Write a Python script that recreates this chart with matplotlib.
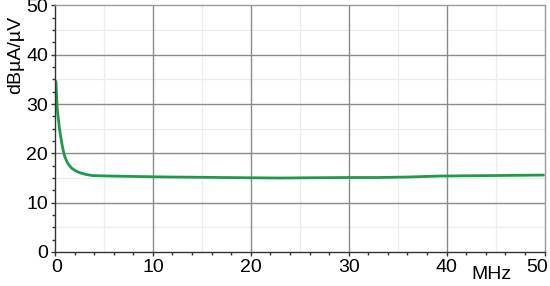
import numpy as np
import matplotlib.pyplot as plt
import matplotlib.transforms as mtransforms
from matplotlib.ticker import MultipleLocator

# frequency (MHz) and level (dBuA/uV)
freq = [0.1, 0.2, 0.28, 0.37, 0.46, 0.55, 0.63, 0.72, 0.85, 0.99, 1.2, 1.4, 1.7, 2.07, 2.5, 3.1,
        3.8, 4.6, 5.6, 7.0, 8.5, 10, 12, 14.8, 17, 19.9, 23, 26, 30, 33, 36, 39.3, 42, 45, 47.5, 49.9]
level = [34.6, 29.9, 28.0, 26.5, 25.0, 23.8, 22.8, 21.8, 20.5, 19.4, 18.4, 17.7, 17.0, 16.5, 16.1, 15.75,
         15.5, 15.45, 15.4, 15.35, 15.3, 15.25, 15.2, 15.15, 15.1, 15.05, 15.0, 15.05, 15.1, 15.1, 15.2, 15.4, 15.45, 15.5, 15.55, 15.6]

xticks = [0, 10, 20, 30, 40, 50]
yticks = [0, 10, 20, 30, 40, 50]

plt.rcParams['font.family'] = ['Liberation Sans', 'DejaVu Sans']

fig = plt.figure(figsize=(5.5, 2.86), dpi=100)
ax = fig.add_axes([0.1, 0.119, 0.89, 0.862])

ax.plot(freq, level, color='#1f9a4b', lw=2.0, solid_capstyle='round', solid_joinstyle='round')

ax.set_xlim(0, 50)
ax.set_ylim(0, 50)
ax.set_xticks(xticks)
ax.set_yticks(yticks)
ax.xaxis.set_minor_locator(MultipleLocator(2))
ax.yaxis.set_minor_locator(MultipleLocator(2.5))

# light grid at 5s, dark grid at 10s
for v in [5, 15, 25, 35, 45]:
    ax.axvline(v, color='#ececec', lw=0.9, zorder=0)
    ax.axhline(v, color='#ececec', lw=0.9, zorder=0)
for v in [10, 20, 30, 40]:
    ax.axvline(v, color='#8a8a8a', lw=1.0, zorder=1)
    ax.axhline(v, color='#8a8a8a', lw=1.0, zorder=1)

ax.tick_params(axis='both', which='major', length=3, width=1, color='#333333',
               labelsize=14, pad=2)
ax.tick_params(axis='both', which='minor', length=2.5, width=1, color='#333333')

# last x label sits a bit to the left so it stays inside the picture
fig.canvas.draw()
lbl = ax.get_xticklabels()[-1]
lbl.set_transform(lbl.get_transform() + mtransforms.ScaledTranslation(-7 / 100, 0, fig.dpi_scale_trans))
lbl0 = ax.get_xticklabels()[0]
lbl0.set_transform(lbl0.get_transform() + mtransforms.ScaledTranslation(2 / 100, 0, fig.dpi_scale_trans))

for s in ['left', 'bottom']:
    ax.spines[s].set_color('#333333')
    ax.spines[s].set_linewidth(1.0)
for s in ['top', 'right']:
    ax.spines[s].set_color('#999999')
    ax.spines[s].set_linewidth(1.0)

fig.text(16 / 550, 1 - 55 / 286, 'dBµA/µV', rotation=90, ha='center', va='center', fontsize=14)
fig.text(491 / 550, 1 - 274.5 / 286, 'MHz', ha='center', va='center', fontsize=14)

fig.savefig('out.png', dpi=100)
